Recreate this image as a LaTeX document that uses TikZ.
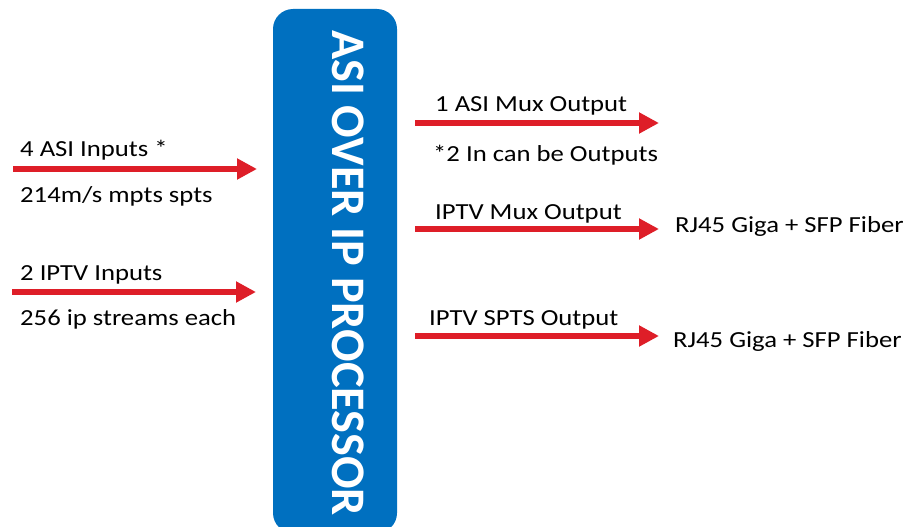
\documentclass[tikz,border=0pt]{standalone}
\usepackage{fontspec}
\setmainfont{Carlito}
\newfontfamily\lblfont{Carlito}[FakeStretch=1.16]
\usetikzlibrary{arrows.meta}
\definecolor{boxblue}{RGB}{0,112,192}
\definecolor{arrred}{RGB}{222,30,40}
\tikzset{
  lbl/.style={anchor=base west, inner sep=0pt, font=\lblfont\fontsize{23}{26}\selectfont, text=black},
  redarrow/.style={draw=arrred, line width=6pt, -{Triangle[length=20pt,width=20pt]}},
  procbox/.style={fill=boxblue, draw=none, rounded corners=20pt},
  proctext/.style={rotate=-90, anchor=base west, inner sep=0pt, text=white, font=\fontsize{48.2}{50}\selectfont\bfseries}
}
\begin{document}
\begin{tikzpicture}[x=1pt,y=-1pt]
\useasboundingbox (0,0) rectangle (906,527);
\clip (0,0) rectangle (906,527);
\fill[procbox] (273,9) rectangle (397,533);
\node[proctext] (proc) at (332,30) {ASI OVER IP PROCESSOR};
% inputs
\coordinate (in1s) at (13,169);  \coordinate (in1e) at (257,169);
\coordinate (in2s) at (12,292);  \coordinate (in2e) at (256,292);
\draw[redarrow] (in1s) -- (in1e);
\draw[redarrow] (in2s) -- (in2e);
\node[lbl] (t1) at (20,157) {4 ASI Inputs *};
\node[lbl] (t2) at (20,202) {214m/s mpts spts};
\node[lbl] (t3) at (20,280) {2 IPTV Inputs};
\node[lbl] (t4) at (20,325) {256 ip streams each};
% outputs
\coordinate (o1s) at (415,123); \coordinate (o1e) at (659,123);
\coordinate (o2s) at (415,229); \coordinate (o2e) at (659,229);
\coordinate (o3s) at (415,336); \coordinate (o3e) at (659,336);
\draw[redarrow] (o1s) -- (o1e);
\draw[redarrow] (o2s) -- (o2e);
\draw[redarrow] (o3s) -- (o3e);
\node[lbl] (u1) at (435,112) {1 ASI Mux Output};
\node[lbl] (u2) at (433,161) {*2 In can be Outputs};
\node[lbl] (u3) at (435,219) {IPTV Mux Output};
\node[lbl] (u4) at (429,325) {IPTV SPTS Output};
\node[lbl] (r1) at (675,232) {RJ45 Giga + SFP Fiber};
\node[lbl] (r2) at (673,347) {RJ45 Giga + SFP Fiber};
\end{tikzpicture}
\end{document}
